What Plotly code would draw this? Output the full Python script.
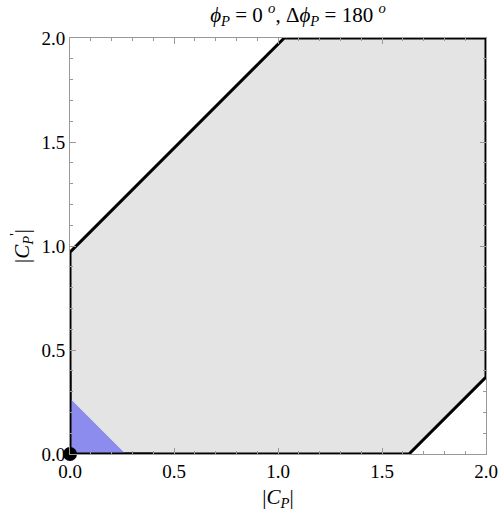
import plotly.graph_objects as go

# allowed region (gray polygon)
region_x = [0.0, 1.63, 2.0, 2.0, 1.03, 0.0, 0.0]
region_y = [0.0, 0.0, 0.37, 2.0, 2.0, 0.97, 0.0]

# small blue triangle near the origin
blue_x = [0.0, 0.265, 0.0, 0.0]
blue_y = [0.0, 0.0, 0.265, 0.0]

# black point
point_x = [0.0]
point_y = [0.0]

tick_vals = [0.0, 0.5, 1.0, 1.5, 2.0]

fig = go.Figure()

fig.add_trace(go.Scatter(
    x=region_x, y=region_y,
    mode="lines",
    fill="toself",
    fillcolor="#E4E4E4",
    line=dict(color="black", width=3),
    hoverinfo="skip",
))

fig.add_trace(go.Scatter(
    x=blue_x, y=blue_y,
    mode="lines",
    fill="toself",
    fillcolor="#8C8CEE",
    line=dict(color="#8C8CEE", width=1),
    hoverinfo="skip",
))

# redraw the black outline bits over the blue
fig.add_trace(go.Scatter(
    x=[0.0, 0.0, 0.4], y=[0.4, 0.0, 0.0],
    mode="lines",
    line=dict(color="black", width=3),
    hoverinfo="skip",
))

fig.add_trace(go.Scatter(
    x=point_x, y=point_y,
    mode="markers",
    marker=dict(color="black", size=14),
    cliponaxis=False,
    hoverinfo="skip",
))

font = "Liberation Serif"

axis_common = dict(
    range=[0, 2],
    tickvals=tick_vals,
    tickformat=".1f",
    ticks="inside",
    ticklen=6,
    tickcolor="#999999",
    showline=True,
    linecolor="#999999",
    linewidth=1,
    mirror="allticks",
    showgrid=False,
    zeroline=False,
    automargin=False,
    minor=dict(ticks="inside", dtick=0.1, ticklen=3, tickcolor="#999999"),
    tickfont=dict(family=font, size=19, color="black"),
)

fig.update_xaxes(
    **axis_common,
    title=dict(text="|<i>C</i><sub><i>P</i></sub>|",
               font=dict(family=font, size=21, color="black"), standoff=8),
)
fig.update_yaxes(
    **axis_common,
    title=dict(text="|<i>C</i><sub><i>P</i></sub><sup>'</sup>|",
               font=dict(family=font, size=21, color="black"), standoff=6),
)

fig.update_layout(
    width=500, height=514,
    margin=dict(l=70, r=14, t=38, b=60),
    paper_bgcolor="white",
    plot_bgcolor="white",
    showlegend=False,
    title=dict(
        text="<i>ϕ</i><sub><i>P</i></sub> = 0 <sup><i>o</i></sup>, "
             "Δ<i>ϕ</i><sub><i>P</i></sub> = 180 <sup><i>o</i></sup>",
        font=dict(family=font, size=21, color="black"),
        xref="paper", x=0.548, xanchor="center", y=0.972, yanchor="middle",
    ),
)

# drop the page's default body margin so the figure fills the window
fig.write_html(
    "out.html",
    config={"displayModeBar": False},
    post_script="document.body.style.margin='0';"
                "document.body.style.overflow='hidden';",
)
